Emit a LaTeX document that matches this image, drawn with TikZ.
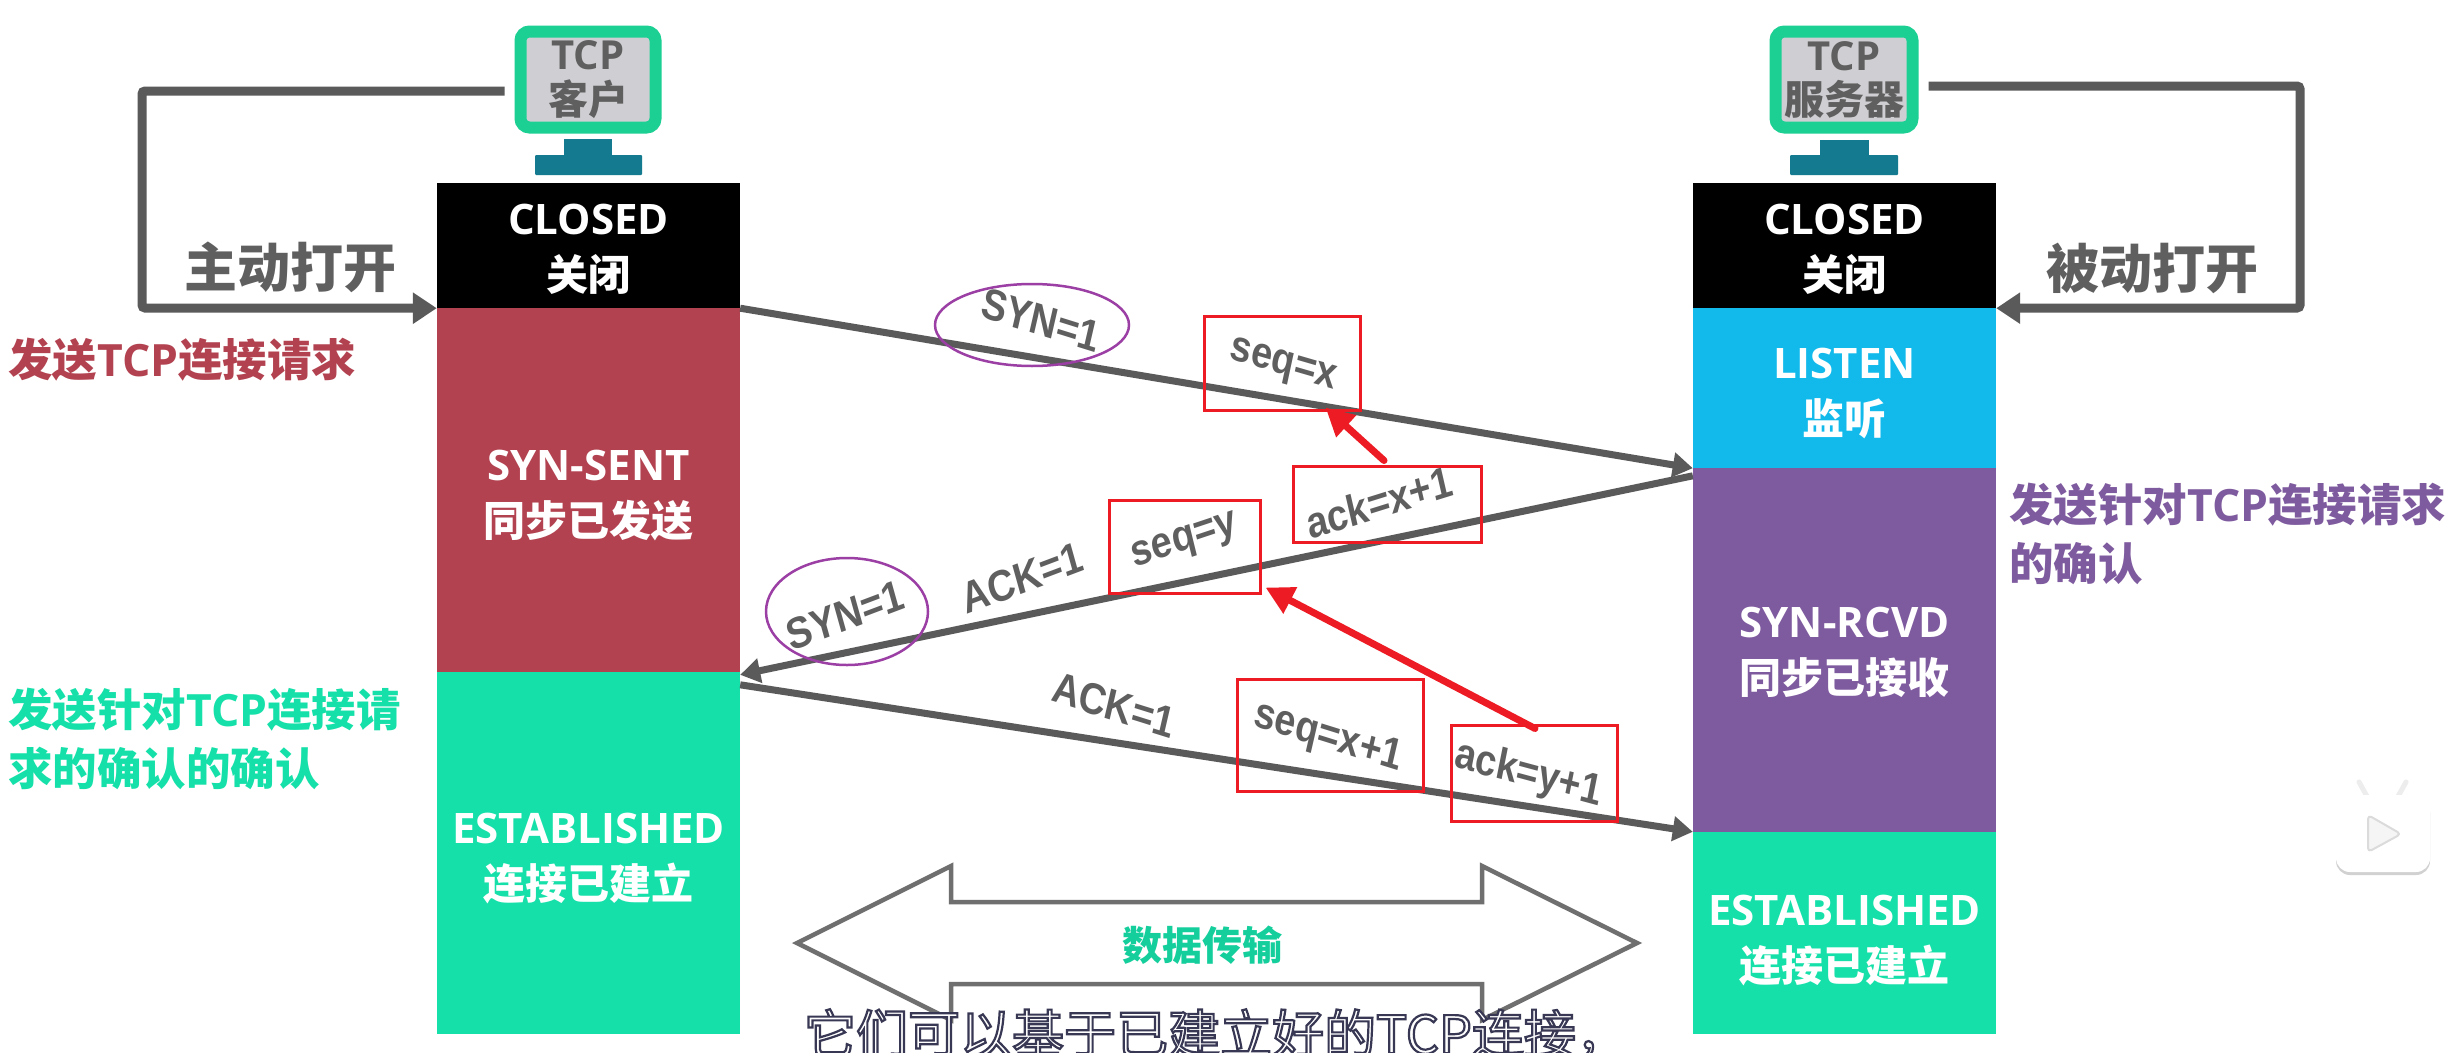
\documentclass[tikz,border=0pt]{standalone}
\usepackage{fontspec}
\setmainfont{Open Sans}
\newfontfamily\cjkf{Noto Sans CJK SC}
\newfontfamily\arlf{Liberation Sans}
\usetikzlibrary{arrows.meta,calc,shapes.geometric}
\newcommand{\fsz}[2]{\fontsize{#1pt}{#2pt}\selectfont}
\newcommand{\zh}[1]{{\cjkf\bfseries #1}}
\definecolor{gline}{HTML}{5A5A5A}
\definecolor{gtext}{HTML}{5F5F5F}
\definecolor{mongreen}{HTML}{1CCF93}
\definecolor{monteal}{HTML}{147A8F}
\definecolor{mongray}{HTML}{CFCFD3}
\definecolor{redst}{HTML}{B34250}
\definecolor{greenst}{HTML}{16E0A9}
\definecolor{bluest}{HTML}{12BAEC}
\definecolor{purplest}{HTML}{7E5A9E}
\definecolor{redmark}{HTML}{ED1C24}
\definecolor{purplemark}{HTML}{9B3FA5}
\tikzset{
  statebox/.style={rectangle,inner sep=0pt,minimum width=303pt,text=white,align=center,font=\bfseries\fsz{42}{56}},
  monbody/.style={rectangle,rounded corners=9pt,draw=mongreen,line width=12pt,fill=mongray,inner sep=0pt,minimum width=135pt,minimum height=96pt,align=center,text=gtext,font=\bfseries\fsz{40}{45}},
  openline/.style={draw=gline,line width=9pt,rounded corners=3pt,-{Triangle[length=24pt,width=30pt]}},
  msgline/.style={draw=gline,line width=7pt,-{Triangle[length=20pt,width=24pt]}},
  redline/.style={draw=redmark,line width=7pt,line cap=round,-{Triangle[length=28pt,width=28pt]}},
  redbox/.style={rectangle,draw=redmark,line width=3pt,inner sep=0pt},
  purpring/.style={ellipse,draw=purplemark,line width=2.5pt,inner sep=0pt},
  msgtext/.style={inner sep=0pt,text=gtext,xscale=0.86,font=\arlf\bfseries\fsz{44}{44}},
  sidetext/.style={inner sep=0pt,anchor=west,align=left,font=\fsz{44.5}{59}},
  opentext/.style={inner sep=0pt,text=gtext,font=\fsz{53}{53}}
}
\begin{document}
\begin{tikzpicture}[x=1pt,y=-1pt]
\useasboundingbox (0,0) rectangle (2457,1052);
\fill[white] (0,0) rectangle (2457,1052);

% state columns
\node[statebox,fill=black,minimum height=125pt] (closedL) at (588.5,245.5) {\rule{0pt}{38pt}CLOSED\\\zh{关闭}};
\node[statebox,fill=redst,minimum height=364pt] (sent) at (588.5,490) {\rule{0pt}{42pt}SYN-SENT\\\zh{同步已发送}};
\node[statebox,fill=greenst,minimum height=362pt] (estL) at (588.5,853) {\rule{0pt}{42pt}ESTABLISHED\\\zh{连接已建立}};
\node[statebox,fill=black,minimum height=125pt] (closedR) at (1844.5,245.5) {\rule{0pt}{38pt}CLOSED\\\zh{关闭}};
\node[statebox,fill=bluest,minimum height=160pt] (listen) at (1844.5,388) {\rule{0pt}{42pt}LISTEN\\\zh{监听}};
\node[statebox,fill=purplest,minimum height=364pt] (rcvd) at (1844.5,650) {\rule{0pt}{36pt}SYN-RCVD\\\zh{同步已接收}};
\node[statebox,fill=greenst,minimum height=202pt] (estR) at (1844.5,933) {\rule{0pt}{46pt}ESTABLISHED\\\zh{连接已建立}};

% monitors
\node[monbody] (monL) at (588,79.5) {TCP\\\zh{客户}};
\fill[monteal] (564,139) rectangle (612,155);
\fill[monteal,rounded corners=1pt] (535,155) rectangle (642,175);
\node[monbody,minimum width=137pt,font=\bfseries\fsz{40}{44}] (monR) at (1844,79.5) {TCP\\\zh{服务器}};
\fill[monteal] (1820,140) rectangle (1869,155);
\fill[monteal,rounded corners=1pt] (1790,155) rectangle (1898,175);

% open connectors
\coordinate (cornerL) at (142,308);
\coordinate (cornerR) at (2300,308);
\draw[openline] ($(monL.west)+(-10,11.5)$) -| (cornerL) -- (closedL.south west);
\draw[openline] ($(monR.east)+(10,6.5)$) -| (cornerR) -- (closedR.south east);
\node[opentext] (openA) at (290,267) {\zh{主动打开}};
\node[opentext] (openP) at (2152,268) {\zh{被动打开}};

% side labels
\node[sidetext,text=redst] (sideA) at (8,360) {\zh{发送}\bfseries TCP\zh{连接请求}};
\node[sidetext,text=greenst] (sideC) at (8,739) {\zh{发送针对}\bfseries TCP\zh{连接请}\\\zh{求的确认的确认}};
\node[sidetext,text=purplest] (sideB) at (2009,534) {\zh{发送针对}\bfseries TCP\zh{连接请求}\\\zh{的确认}};

% messages
\draw[msgline] (closedL.south east) -- (listen.south west);
\draw[msgline] ($(rcvd.north west)+(0,8)$) -- ($(estL.north east)+(0,3)$);
\draw[msgline] ($(estL.north east)+(0,13)$) -- (estR.north west);

% purple rings
\node[purpring,minimum width=194pt,minimum height=82pt] (ringA) at (1032,325) {};
\node[purpring,minimum width=162pt,minimum height=107pt] (ringB) at (847,611.5) {};

% red boxes
\node[redbox,minimum width=156pt,minimum height=94pt] (bSeqX) at (1282,363) {};
\node[redbox,minimum width=188pt,minimum height=76pt] (bAckX) at (1387,504) {};
\node[redbox,minimum width=151pt,minimum height=93pt] (bSeqY) at (1184.5,546.5) {};
\node[redbox,minimum width=186pt,minimum height=112pt] (bSeqX1) at (1330,735) {};
\node[redbox,minimum width=166pt,minimum height=96pt] (bAckY) at (1534,773) {};
\draw[redline] ($(bAckX.north)+(-3,-4)$) -- ($(bSeqX.south east)+(-36,-4)$);
\draw[redline] ($(bAckY.north)+(1,5)$) -- ($(bSeqY.south east)+(4,-7)$);

% message texts
\node[msgtext,rotate=-15] (tSynA) at (1041,320) {SYN=1};
\node[msgtext,rotate=-14] (tSeqX) at (1283,367) {seq=x};
\node[msgtext,rotate=15] (tAckX) at (1379,502) {ack=x+1};
\node[msgtext,rotate=16] (tSeqY) at (1185,543) {seq=y};
\node[msgtext,rotate=18] (tAckA) at (1022,578) {ACK=1};
\node[msgtext,rotate=18] (tSynB) at (845,615) {SYN=1};
\node[msgtext,rotate=-15] (tAckB) at (1114,705) {ACK=1};
\node[msgtext,rotate=-15] (tSeqX1) at (1328,738) {seq=x+1};
\node[msgtext,rotate=-13] (tAckY) at (1528,775) {ack=y+1};

% data transfer double arrow
\draw[draw=gtext!90,line width=4.5pt,line join=miter] (797,943) -- (951,866) -- (951,902) -- (1482,902) -- (1482,866) -- (1637,943) -- (1482,1020) -- (1482,984) -- (951,984) -- (951,1020) -- cycle;
\node[inner sep=0pt,text=greenst!92!black,font=\fsz{40}{40}] (data) at (1202,945) {\zh{数据传输}};

% player badge
\begin{scope}
\draw[line width=5pt,line cap=round,draw=black!7] (2359,782) -- (2369,800);
\draw[line width=5pt,line cap=round,draw=black!7] (2406,782) -- (2396,800);
\fill[black!18,rounded corners=14pt] (2336,798) rectangle (2430,875);
\fill[white,rounded corners=14pt] (2336,795) rectangle (2430,872);
\draw[draw=black!14,fill=black!4,line width=2pt,line join=round,rounded corners=4pt] (2368,815) -- (2401,834) -- (2368,852) -- cycle;
\end{scope}

% caption
\begin{scope}
\clip (0,0) rectangle (2457,1052);
\node[inner sep=0pt,font=\fsz{52}{52}] (cap) at (1216,1034) {\special{pdf:code q 2 Tr 2.2 w 0.22 0.22 0.33 RG 1 1 1 rg}\cjkf 它们可以基于已建立好的TCP连接，\special{pdf:code Q}};
\end{scope}
\end{tikzpicture}
\end{document}
